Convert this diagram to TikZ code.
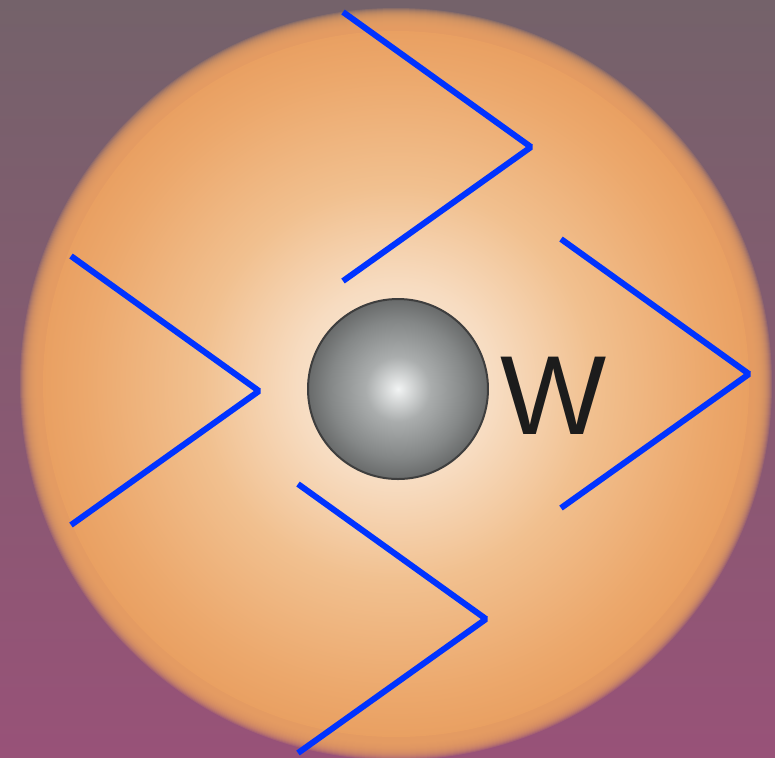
\documentclass[tikz,border=0pt]{standalone}
\usepackage{fontspec}
\setmainfont{Liberation Sans}
\usetikzlibrary{positioning}

\definecolor{bgtop}{RGB}{116,98,106}
\definecolor{bgbot}{RGB}{152,82,120}
\definecolor{glowA}{RGB}{252,239,224}
\definecolor{glowB}{RGB}{247,220,193}
\definecolor{glowC}{RGB}{241,192,143}
\definecolor{glowD}{RGB}{236,168,108}
\definecolor{glowE}{RGB}{233,160,98}
\definecolor{chevblue}{RGB}{0,51,255}
\definecolor{ballA}{RGB}{242,244,244}
\definecolor{ballB}{RGB}{170,173,173}
\definecolor{ballC}{RGB}{132,135,135}
\definecolor{ballD}{RGB}{104,106,106}
\definecolor{ballrim}{RGB}{62,62,62}
\definecolor{wink}{RGB}{28,28,28}

\pgfdeclareradialshading{glow}{\pgfpoint{0bp}{0bp}}{%
  color(0bp)=(glowA); color(7bp)=(glowB); color(14bp)=(glowC);
  color(22bp)=(glowD); color(25bp)=(glowE); color(50bp)=(glowE)}
\pgfdeclareradialshading{ballshade}{\pgfpoint{0bp}{0bp}}{%
  color(0bp)=(ballA); color(9bp)=(ballB); color(19bp)=(ballC);
  color(25bp)=(ballD); color(50bp)=(ballD)}

\begin{document}
\begin{tikzpicture}[
    x=0.1mm, y=-0.1mm,
    chev/.style={draw=chevblue, line width=0.6mm, line join=bevel},
    ball/.style={circle, minimum size=18mm, inner sep=0pt, shading=ballshade,
                 draw=ballrim, line width=0.2mm},
    wlabel/.style={inner sep=0pt, text=wink, font=\fontsize{32}{32}\selectfont},
  ]
  \useasboundingbox (0,0) rectangle (775,757);
  \begin{scope}
    \clip (0,0) rectangle (775,757);
    % background
    \shade[top color=bgtop, bottom color=bgbot] (0,0) rectangle (775,757);
    % soft rim of the glow
    \foreach \k in {0,...,23}
      \fill[glowE, opacity=0.18] (396,384) circle ({376-\k});
    \shade[shading=glow] (396,384) circle (353);
  \end{scope}

  % ball and label
  \node[ball] (ball) at (398,389) {};
  \node[wlabel, right=1.1mm of ball, yshift=-0.7mm] (w) {W};

  % chevrons
  \foreach \tx/\ty in {531/147, 259/391, 749/374, 486/619}
    \draw[chev] (\tx-188,\ty-135) -- (\tx,\ty) -- (\tx-188,\ty+134);
\end{tikzpicture}
\end{document}
